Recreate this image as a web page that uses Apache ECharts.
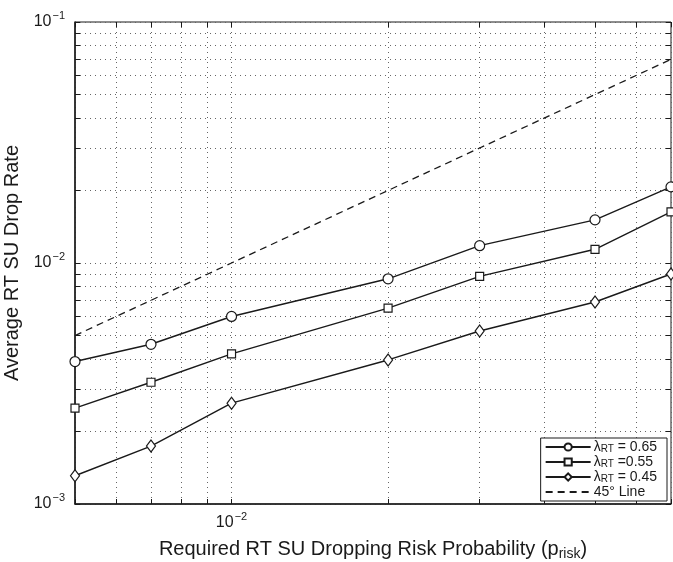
<!DOCTYPE html>
<html>
<head>
<meta charset="utf-8">
<script src="https://cdn.jsdelivr.net/npm/echarts@6/dist/echarts.min.js"></script>
<style>
  html, body { margin: 0; padding: 0; background: #fff; }
  #chart { width: 673px; height: 562px; }
</style>
</head>
<body>
<div id="chart"></div>
<script>
// risk probability values (x)
const pRisk = [0.005, 0.007, 0.01, 0.02, 0.03, 0.05, 0.07]
const rt065 = [0.0039, 0.0046, 0.0060, 0.0086, 0.0118, 0.0151, 0.0207]
const rt055 = [0.0025, 0.0032, 0.0042, 0.0065, 0.0088, 0.0114, 0.0163]
const rt045 = [0.00131, 0.00174, 0.00262, 0.00396, 0.00522, 0.00689, 0.0090]
const line45 = [0.005, 0.007, 0.01, 0.02, 0.03, 0.05, 0.07]

const xGrid = [0.005, 0.006, 0.007, 0.008, 0.009, 0.01, 0.02, 0.03, 0.04, 0.05, 0.06, 0.07]
const yGrid = [0.001, 0.002, 0.003, 0.004, 0.005, 0.006, 0.007, 0.008, 0.009,
    0.01, 0.02, 0.03, 0.04, 0.05, 0.06, 0.07, 0.08, 0.09, 0.1]
const xLabels = [0.01]
const yLabels = [0.001, 0.01, 0.1]

const font = '"Liberation Sans", Arial, sans-serif'
const ink = '#1a1a1a'

function powLabel(v) {
    const e = Math.round(Math.log10(v))
    return '{b|10}{s|\u2212' + Math.abs(e) + '}'
}
const powRich = {
    b: { fontSize: 16, fontFamily: font, color: ink, lineHeight: 18 },
    s: { fontSize: 11, fontFamily: font, color: ink, lineHeight: 18, padding: [0, 0, 12, 1] }
}

const dotted = { type: [1, 4], color: '#666', width: 1 }

function makeSeries(name, data, symbol, size) {
    return {
        name: name,
        type: 'line',
        data: pRisk.map((x, i) => [x, data[i]]),
        symbol: symbol,
        symbolSize: size,
        showAllSymbol: true,
        lineStyle: { color: ink, width: 1.4 },
        itemStyle: { color: '#fff', borderColor: ink, borderWidth: 1.2 },
        emphasis: { disabled: true },
        z: 3
    }
}

// box-only axes on top / right (MATLAB style ticks)
function boxAxis(base, pos, ticks) {
    return Object.assign({}, base, {
        position: pos,
        name: '',
        axisLine: { show: false },
        axisTick: { show: true, inside: true, length: 5, customValues: ticks, lineStyle: { color: ink } },
        axisLabel: { show: false },
        splitLine: { show: false }
    })
}

const xBase = { type: 'log', logBase: 10, min: 0.005, max: 0.07 }
const yBase = { type: 'log', logBase: 10, min: 0.001, max: 0.1 }

const chart = echarts.init(document.getElementById('chart'))
chart.setOption({
    backgroundColor: '#fff',
    animation: false,
    grid: {
        left: 75, right: 2, top: 22, bottom: 58,
        outerBoundsMode: 'none',
        containLabel: false,
        show: true, borderColor: ink, borderWidth: 1, backgroundColor: 'transparent'
    },
    legend: {
        orient: 'vertical',
        right: 6,
        bottom: 61,
        backgroundColor: '#fff',
        borderColor: ink,
        borderWidth: 1,
        borderRadius: 0,
        padding: [2, 10, 2, 4],
        itemGap: 1,
        itemWidth: 45,
        itemHeight: 9,
        data: [
            { name: 'l65' },
            { name: 'l55' },
            { name: 'l45' },
            { name: 'l45deg', itemStyle: { color: 'rgba(0,0,0,0)', borderColor: 'rgba(0,0,0,0)', borderWidth: 0 } }
        ],
        formatter: function (name) {
            if (name === 'l65') return '\u03bb{sub|RT} = 0.65'
            if (name === 'l55') return '\u03bb{sub|RT} =0.55'
            if (name === 'l45') return '\u03bb{sub|RT} = 0.45'
            return '45\u00b0 Line'
        },
        textStyle: {
            fontSize: 14, lineHeight: 14, fontFamily: font, color: ink, padding: [0, 0, 0, -2],
            rich: { sub: { fontSize: 10, lineHeight: 10, fontFamily: font, color: ink, padding: [4, 0, 0, 0] } }
        }
    },
    xAxis: [
        Object.assign({}, xBase, {
            name: 'Required RT SU Dropping Risk Probability (p{sub|risk})',
            nameLocation: 'middle',
            nameGap: 33,
            nameTextStyle: {
                fontSize: 20, fontFamily: font, color: ink,
                rich: { sub: { fontSize: 14, fontFamily: font, color: ink, padding: [9, 0, 0, 0] } }
            },
            axisLine: { show: true, onZero: false, lineStyle: { color: ink, width: 1.5 } },
            axisTick: { show: true, inside: true, length: 5, customValues: xGrid, lineStyle: { color: ink } },
            axisLabel: {
                customValues: xLabels, formatter: powLabel, rich: powRich, margin: 10
            },
            splitLine: { show: true, lineStyle: dotted },
            minorTick: { show: false },
            minorSplitLine: { show: false }
        }),
        boxAxis(xBase, 'top', xGrid)
    ],
    yAxis: [
        Object.assign({}, yBase, {
            name: 'Average RT SU Drop Rate',
            nameLocation: 'middle',
            nameGap: 43,
            nameTextStyle: { fontSize: 20, fontFamily: font, color: ink },
            axisLine: { show: true, onZero: false, lineStyle: { color: ink, width: 1.5 } },
            axisTick: { show: true, inside: true, length: 5, customValues: yGrid, lineStyle: { color: ink } },
            axisLabel: {
                customValues: yLabels, formatter: powLabel, rich: powRich, margin: 10
            },
            splitLine: { show: true, lineStyle: dotted },
            minorTick: { show: false },
            minorSplitLine: { show: false }
        }),
        boxAxis(yBase, 'right', yGrid)
    ],
    series: [
        makeSeries('l65', rt065, 'circle', 10),
        makeSeries('l55', rt055, 'rect', 8),
        makeSeries('l45', rt045, 'diamond', [9, 12]),
        {
            name: 'l45deg',
            type: 'line',
            data: pRisk.map((x, i) => [x, line45[i]]),
            symbol: 'none',
            lineStyle: { color: ink, width: 1.3, type: [7, 5] },
            itemStyle: { color: ink },
            emphasis: { disabled: true },
            z: 2
        }
    ]
})
</script>
</body>
</html>
